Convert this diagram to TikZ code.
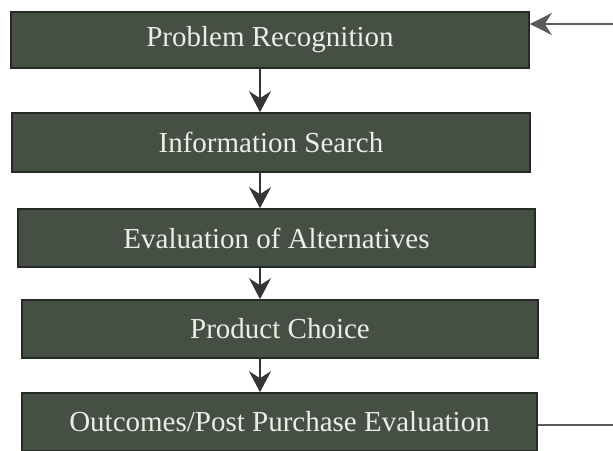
\documentclass[tikz,border=0pt]{standalone}
\usepackage{fontspec}
\setmainfont{Liberation Serif}
\usetikzlibrary{arrows.meta}
\definecolor{boxfill}{HTML}{454F44}
\definecolor{boxedge}{HTML}{262A26}
\definecolor{arrcol}{HTML}{333633}
\definecolor{fbcol}{HTML}{5A5C5A}
\definecolor{boxtext}{HTML}{EDEDE8}
\tikzset{
  stagebox/.style={draw=boxedge, line width=1.6pt, fill=boxfill, text=boxtext,
    inner sep=0pt, font=\fontsize{29}{31}\selectfont},
  downarr/.style={draw=arrcol, line width=2pt,
    -{Stealth[length=21pt,width=22pt,inset=7pt]}},
  fbline/.style={draw=fbcol, line width=1.6pt},
  fbarr/.style={draw=fbcol, line width=1.6pt,
    -{Stealth[length=22pt,width=22pt,inset=7pt]}}
}
\begin{document}
\begin{tikzpicture}[x=1pt,y=-1pt]
\useasboundingbox (0,0) rectangle (613,450);
\node[stagebox, minimum width=518pt, minimum height=56pt] (b1) at (270,40) {Problem Recognition};
\node[stagebox, minimum width=518pt, minimum height=59pt] (b2) at (271,142.5) {Information Search};
\node[stagebox, minimum width=517pt, minimum height=58pt] (b3) at (276.5,238) {Evaluation of Alternatives};
\node[stagebox, minimum width=516pt, minimum height=58pt] (b4) at (280,329) {Product Choice};
\node[stagebox, minimum width=515pt, minimum height=58pt] (b5) at (279.5,422) {Outcomes/Post Purchase Evaluation};
\coordinate (ax) at (260,0);
\draw[downarr] (b1.south -| ax) -- (b2.north -| ax);
\draw[downarr] (b2.south -| ax) -- (b3.north -| ax);
\draw[downarr] (b3.south -| ax) -- (b4.north -| ax);
\draw[downarr] (b4.south -| ax) -- (b5.north -| ax);
\coordinate (fbtop) at (614,24);
\coordinate (fbbot) at (614,425);
\draw[fbline] (b5.east |- fbbot) -- (fbbot);
\draw[fbarr] (fbtop) -- (b1.east |- fbtop);
\end{tikzpicture}
\end{document}
